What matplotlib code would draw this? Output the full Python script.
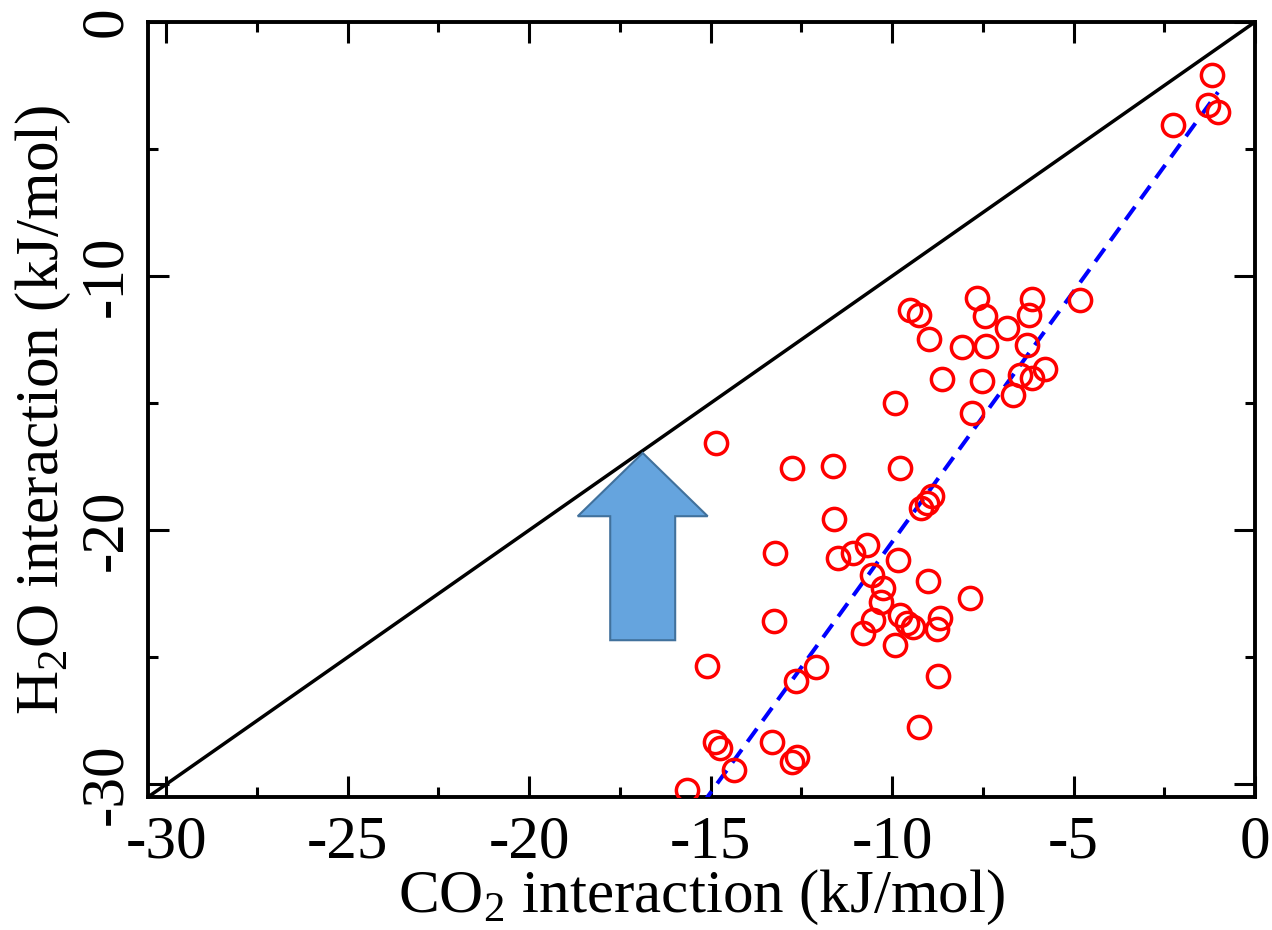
import matplotlib
matplotlib.use("Agg")
import matplotlib.pyplot as plt
from matplotlib.patches import FancyArrow
from matplotlib.ticker import MultipleLocator
import numpy as np

# ---- data ----
co2 = [-1.18, -1.29, -1.02, -2.26, -4.82, -7.66, -6.14, -7.44, -6.23, -9.50,
       -9.26, -6.83, -8.98, -8.07, -7.41, -6.28, -8.62, -7.52, -6.47, -6.14,
       -5.79, -6.67, -9.92, -7.80, -9.78, -14.85, -12.75, -11.63, -11.60, -8.90,
       -9.04, -9.20, -13.22, -11.49, -11.07, -10.69, -9.83, -10.55, -10.25, -9.01,
       -7.85, -10.30, -9.78, -10.52, -10.80, -9.59, -9.42, -8.68, -8.76, -9.92,
       -8.73, -9.26, -13.25, -15.10, -12.09, -12.64, -14.88, -14.74, -13.31, -12.62,
       -12.75, -14.35, -15.65]
h2o = [-2.09, -3.27, -3.54, -4.06, -10.94, -10.87, -10.91, -11.57, -11.54, -11.34,
       -11.54, -12.05, -12.48, -12.80, -12.76, -12.72, -14.06, -14.13, -13.90, -14.02,
       -13.66, -14.69, -15.00, -15.39, -17.56, -16.57, -17.56, -17.48, -19.57, -18.66,
       -18.94, -19.13, -20.91, -21.10, -20.91, -20.59, -21.18, -21.77, -22.28, -22.01,
       -22.68, -22.83, -23.35, -23.54, -24.06, -23.66, -23.82, -23.46, -23.90, -24.53,
       -25.75, -27.76, -23.58, -25.35, -25.39, -25.94, -28.35, -28.58, -28.35, -28.94,
       -29.13, -29.45, -30.24]
fit_slope = 1.972
fit_intercept = -0.749

x_ticks = [-30, -25, -20, -15, -10, -5, 0]
y_ticks = [-30, -20, -10, 0]
axis_min, axis_max = -30.5, 0.0

# ---- style ----
plt.rcParams['font.family'] = ['Liberation Serif', 'DejaVu Serif']
plt.rcParams['mathtext.fontset'] = 'custom'
plt.rcParams['mathtext.rm'] = 'Liberation Serif'

W, H = 1272, 930
fig = plt.figure(figsize=(W/100, H/100), dpi=100)
L, R, T, B = 148, 1255, 22, 797
ax = fig.add_axes([L/W, 1-B/H, (R-L)/W, (B-T)/H])

# diagonal y = x
ax.axline((0, 0), slope=1, color='black', lw=2.5, zorder=2)

# fit line
fx = np.array([min(co2), max(co2)])
ax.plot(fx, fit_slope*fx + fit_intercept, color='#0000ff', lw=2.9,
        dashes=(4.0, 2.4), zorder=3)

# scatter
ax.plot(co2, h2o, linestyle='none', marker='o', markersize=16,
        markerfacecolor='none', markeredgecolor='#ff0000', markeredgewidth=2.5,
        zorder=4)

# arrow annotation
arr = FancyArrow(-16.87, -24.33, 0, 7.37, width=1.79, head_width=3.58,
                 head_length=2.49, length_includes_head=True,
                 facecolor='#65a4de', edgecolor='#41719c', lw=1.5, zorder=5)
ax.add_patch(arr)

ax.set_xlim(axis_min, axis_max)
ax.set_ylim(axis_min, axis_max)
ax.set_xticks(x_ticks)
ax.set_yticks(y_ticks)
ax.set_xticklabels([str(t) for t in x_ticks])
ax.set_yticklabels([str(t) for t in y_ticks], rotation=90, va='center')
ax.xaxis.set_minor_locator(MultipleLocator(2.5))
ax.yaxis.set_minor_locator(MultipleLocator(5))

FS = 44
ax.tick_params(which='both', direction='in', top=True, right=True,
               labelsize=FS, width=2.2, colors='black')
ax.tick_params(which='major', length=15)
ax.tick_params(which='minor', length=7)
ax.tick_params(axis='x', which='major', pad=13)
ax.tick_params(axis='y', which='major', pad=10)
for s in ax.spines.values():
    s.set_linewidth(2.8)

ax.set_xlabel(r'CO$_\mathregular{2}$ interaction (kJ/mol)', fontsize=FS)
ax.set_ylabel(r'H$_\mathregular{2}$O interaction (kJ/mol)', fontsize=FS)
ax.xaxis.set_label_coords(0.5, (B-912)/(B-T))
ax.xaxis.label.set_va('baseline')
ax.yaxis.set_label_coords((58-L)/(R-L), 0.5)
ax.yaxis.label.set_va('baseline')

fig.savefig('out.png', dpi=100)
